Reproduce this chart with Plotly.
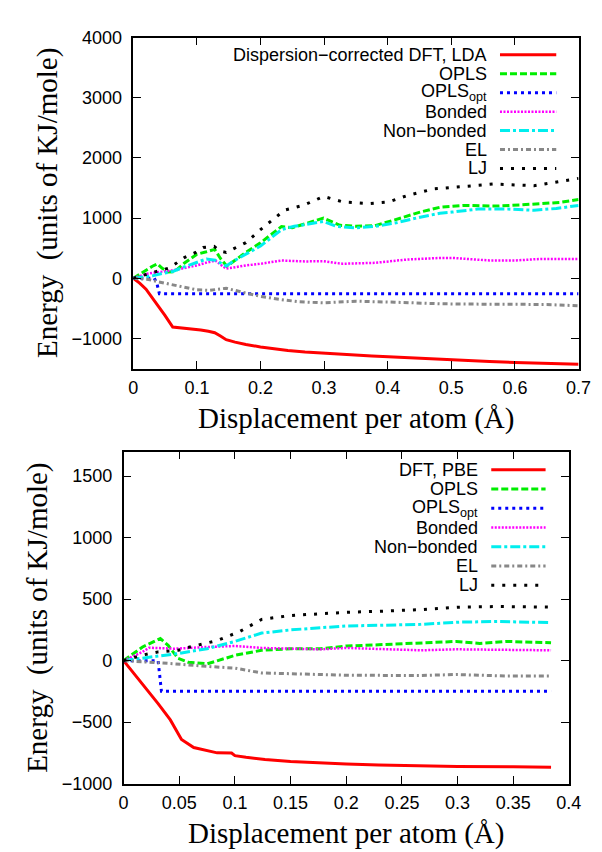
import plotly.graph_objects as go

W, H = 602, 852

# ---------------- data: top panel (dispersion-corrected DFT, LDA) ----------------
top_dft_x = [0, 0.01, 0.02, 0.03, 0.04, 0.05, 0.062, 0.085, 0.106, 0.118, 0.128, 0.137, 0.146, 0.16, 0.177, 0.2, 0.22, 0.243, 0.27, 0.299, 0.325, 0.35, 0.375, 0.401, 0.43, 0.451, 0.482, 0.52, 0.56, 0.6, 0.65, 0.7]
top_dft_y = [0, -80, -180, -320, -470, -620, -810, -830, -860, -880, -905, -960, -1020, -1060, -1100, -1140, -1170, -1200, -1225, -1245, -1260, -1275, -1290, -1302, -1318, -1328, -1345, -1365, -1382, -1398, -1415, -1430]

top_opls_x = [0, 0.01, 0.02, 0.03, 0.038, 0.045, 0.055, 0.065, 0.08, 0.1, 0.115, 0.128, 0.137, 0.147, 0.16, 0.177, 0.2, 0.22, 0.233, 0.25, 0.27, 0.299, 0.31, 0.325, 0.35, 0.38, 0.411, 0.451, 0.482, 0.519, 0.545, 0.571, 0.61, 0.641, 0.67, 0.7]
top_opls_y = [0, 70, 130, 200, 240, 170, 105, 110, 250, 400, 440, 480, 330, 200, 300, 430, 590, 750, 860, 840, 910, 1000, 950, 880, 865, 875, 970, 1100, 1180, 1210, 1205, 1200, 1220, 1236, 1260, 1310]

top_oplsopt_x = [0, 0.02, 0.033, 0.037, 0.041, 0.2, 0.4, 0.7]
top_oplsopt_y = [0, 5, 0, -80, -255, -255, -255, -255]

top_bonded_x = [0, 0.01, 0.02, 0.03, 0.045, 0.062, 0.08, 0.1, 0.115, 0.129, 0.138, 0.146, 0.177, 0.2, 0.233, 0.27, 0.299, 0.329, 0.38, 0.43, 0.482, 0.501, 0.56, 0.6, 0.641, 0.7]
top_bonded_y = [0, 40, 70, 90, 110, 132, 170, 214, 260, 295, 220, 160, 214, 241, 295, 280, 284, 241, 257, 311, 338, 339, 296, 296, 322, 322]

top_nonb_x = [0, 0.01, 0.02, 0.03, 0.045, 0.062, 0.08, 0.1, 0.115, 0.129, 0.138, 0.146, 0.16, 0.177, 0.2, 0.22, 0.233, 0.253, 0.275, 0.299, 0.319, 0.35, 0.38, 0.411, 0.451, 0.482, 0.501, 0.542, 0.589, 0.63, 0.665, 0.7]
top_nonb_y = [0, 10, 20, 40, 80, 113, 190, 265, 320, 300, 250, 203, 300, 400, 536, 700, 808, 863, 900, 944, 863, 836, 863, 917, 1015, 1080, 1100, 1150, 1150, 1130, 1160, 1210]

top_el_x = [0, 0.024, 0.04, 0.062, 0.08, 0.1, 0.12, 0.146, 0.177, 0.2, 0.233, 0.26, 0.299, 0.35, 0.411, 0.482, 0.55, 0.6, 0.65, 0.7]
top_el_y = [0, -20, -60, -111, -150, -192, -200, -165, -246, -300, -354, -390, -408, -381, -397, -424, -430, -430, -435, -457]

top_lj_x = [0, 0.016, 0.034, 0.057, 0.081, 0.098, 0.11, 0.127, 0.137, 0.146, 0.177, 0.2, 0.238, 0.268, 0.299, 0.33, 0.37, 0.401, 0.431, 0.472, 0.501, 0.566, 0.63, 0.7]
top_lj_y = [0, 54, 107, 172, 349, 430, 511, 530, 450, 430, 592, 809, 1133, 1214, 1360, 1268, 1241, 1268, 1376, 1484, 1512, 1566, 1539, 1660]

# ---------------- data: bottom panel (DFT, PBE) ----------------
bot_dft_x = [0, 0.01, 0.02, 0.031, 0.042, 0.052, 0.063, 0.075, 0.084, 0.097, 0.1, 0.11, 0.127, 0.15, 0.177, 0.2, 0.229, 0.267, 0.3, 0.35, 0.384]
bot_dft_y = [0, -113, -218, -350, -482, -641, -707, -733, -750, -752, -773, -786, -804, -820, -833, -841, -849, -857, -860, -864, -867]

bot_opls_x = [0, 0.017, 0.033, 0.04, 0.049, 0.058, 0.075, 0.087, 0.101, 0.124, 0.15, 0.177, 0.2, 0.229, 0.267, 0.299, 0.32, 0.345, 0.384]
bot_opls_y = [0, 111, 180, 124, 18, -13, -26, 5, 45, 84, 97, 97, 119, 129, 142, 156, 140, 156, 145]

bot_oplsopt_x = [0, 0.031, 0.034, 0.2, 0.384]
bot_oplsopt_y = [0, 0, -250, -250, -250]

bot_bonded_x = [0, 0.017, 0.023, 0.046, 0.075, 0.1, 0.124, 0.15, 0.177, 0.2, 0.229, 0.267, 0.299, 0.34, 0.384]
bot_bonded_y = [0, 71, 105, 97, 111, 119, 103, 97, 92, 103, 97, 84, 92, 88, 84]

bot_nonb_x = [0, 0.017, 0.031, 0.049, 0.075, 0.1, 0.124, 0.15, 0.177, 0.2, 0.229, 0.267, 0.302, 0.336, 0.384]
bot_nonb_y = [0, 18, 37, 58, 97, 156, 224, 250, 269, 282, 287, 295, 313, 318, 309]

bot_el_x = [0, 0.017, 0.046, 0.075, 0.1, 0.124, 0.15, 0.2, 0.267, 0.299, 0.345, 0.384]
bot_el_y = [0, -8, -26, -47, -61, -100, -105, -119, -121, -113, -126, -126]

bot_lj_x = [0, 0.017, 0.031, 0.049, 0.063, 0.084, 0.104, 0.124, 0.15, 0.177, 0.2, 0.229, 0.267, 0.302, 0.336, 0.384]
bot_lj_y = [0, 45, 71, 84, 119, 163, 235, 335, 367, 383, 393, 401, 415, 435, 440, 435]

top_names = ["Dispersion\u2212corrected DFT, LDA", "OPLS", "OPLS<sub>opt</sub>", "Bonded", "Non\u2212bonded", "EL", "LJ"]
bot_names = ["DFT, PBE", "OPLS", "OPLS<sub>opt</sub>", "Bonded", "Non\u2212bonded", "EL", "LJ"]

x_title = "Displacement per atom (\u00c5)"
y_title = "Energy\u00a0\u00a0(units of KJ/mole)"

# ---------------- styles ----------------
styles = [
    dict(color="#ff0000", width=3, dash="solid"),
    dict(color="#00ee00", width=3, dash="7px,3px"),
    dict(color="#0000ff", width=3, dash="3px,4px"),
    dict(color="#ff00ff", width=2.5, dash="2px,1.5px"),
    dict(color="#00eeee", width=3, dash="10px,3px,3px,3px"),
    dict(color="#888888", width=3, dash="5px,3px,2px,3px"),
    dict(color="#000000", width=3, dash="3px,8px"),
]

SANS = "Liberation Sans"
SERIF = "Liberation Serif"

def px_x(x):
    return x / W

def px_y(y):
    return 1 - y / H

# panel geometry in pixels
top_box = dict(l=124, r=583, t=20, b=359)
bot_box = dict(l=114, r=573, t=444, b=784)

fig = go.Figure()

top_series = [(top_dft_x, top_dft_y), (top_opls_x, top_opls_y), (top_oplsopt_x, top_oplsopt_y),
              (top_bonded_x, top_bonded_y), (top_nonb_x, top_nonb_y), (top_el_x, top_el_y), (top_lj_x, top_lj_y)]
bot_series = [(bot_dft_x, bot_dft_y), (bot_opls_x, bot_opls_y), (bot_oplsopt_x, bot_oplsopt_y),
              (bot_bonded_x, bot_bonded_y), (bot_nonb_x, bot_nonb_y), (bot_el_x, bot_el_y), (bot_lj_x, bot_lj_y)]

for (xs, ys), st, nm in zip(top_series, styles, top_names):
    fig.add_trace(go.Scatter(x=xs, y=ys, mode="lines", name=nm, line=st,
                             xaxis="x", yaxis="y", showlegend=False))
for (xs, ys), st, nm in zip(bot_series, styles, bot_names):
    fig.add_trace(go.Scatter(x=xs, y=ys, mode="lines", name=nm, line=st,
                             xaxis="x2", yaxis="y2", showlegend=False))

axis_common = dict(showline=True, mirror="ticks", linecolor="black", linewidth=1.5,
                   ticks="inside", ticklen=8, tickwidth=1.2, tickcolor="black",
                   showgrid=False, zeroline=False,
                   tickfont=dict(family=SANS, size=18, color="black"))

fig.update_layout(
    width=W, height=H,
    margin=dict(l=0, r=0, t=0, b=0),
    paper_bgcolor="white", plot_bgcolor="white",
    showlegend=False,
    xaxis=dict(domain=[px_x(top_box["l"]), px_x(top_box["r"])], range=[0, 0.7], dtick=0.1, tick0=0,
               anchor="y", ticklabelstandoff=2, **axis_common),
    yaxis=dict(domain=[px_y(top_box["b"]), px_y(top_box["t"])], range=[-1500, 4000], dtick=1000, tick0=0,
               anchor="x", ticklabelstandoff=6, **axis_common),
    xaxis2=dict(domain=[px_x(bot_box["l"]), px_x(bot_box["r"])], range=[0, 0.4], dtick=0.05, tick0=0,
                anchor="y2", ticklabelstandoff=2, **axis_common),
    yaxis2=dict(domain=[px_y(bot_box["b"]), px_y(bot_box["t"])], range=[-1000, 1700], dtick=500, tick0=0,
                anchor="x2", ticklabelstandoff=6, **axis_common),
)

annotations = []
shapes = []

# axis titles
for box, xt_y, yt_x in [(top_box, 410, 35), (bot_box, 835, 25)]:
    annotations.append(dict(text=x_title, xref="paper", yref="paper",
                            x=px_x((box["l"] + box["r"]) / 2), y=px_y(xt_y),
                            xanchor="center", yanchor="middle", showarrow=False,
                            font=dict(family=SERIF, size=29, color="black")))
    annotations.append(dict(text=y_title, xref="paper", yref="paper",
                            x=px_x(yt_x), y=px_y((box["t"] + box["b"]) / 2),
                            xanchor="center", yanchor="middle", showarrow=False, textangle=-90,
                            font=dict(family=SERIF, size=29, color="black")))

# custom legends (text right-aligned, sample line to the right)
def add_legend(names, text_right, line_l, line_r, y0, dy):
    for i, (nm, st) in enumerate(zip(names, styles)):
        yy = y0 + i * dy
        annotations.append(dict(text=nm, xref="paper", yref="paper",
                                x=px_x(text_right), y=px_y(yy), xanchor="right", yanchor="middle",
                                showarrow=False, font=dict(family=SANS, size=18, color="black")))
        shapes.append(dict(type="line", xref="paper", yref="paper",
                           x0=px_x(line_l), x1=px_x(line_r), y0=px_y(yy), y1=px_y(yy),
                           line=dict(color=st["color"], width=st["width"], dash=st["dash"])))

add_legend(top_names, 491, 502, 560, 37.7, 19.4)
add_legend(bot_names, 481, 493, 549, 462.7, 19.7)

fig.update_layout(annotations=annotations, shapes=shapes)

fig.write_html("out.html")
